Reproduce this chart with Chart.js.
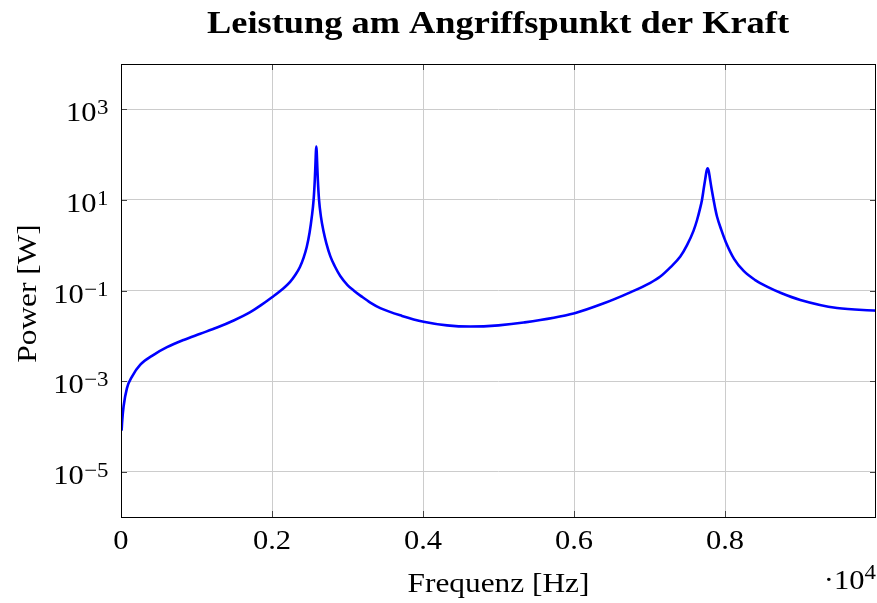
<!DOCTYPE html>
<html><head><meta charset="utf-8">
<script src="https://cdn.jsdelivr.net/npm/chart.js@4/dist/chart.umd.min.js"></script>
<style>html,body{margin:0;padding:0;background:#fff}canvas{display:block}</style>
</head><body>
<canvas id="c" width="877" height="603"></canvas>
<script>
const chartTitle = "Leistung am Angriffspunkt der Kraft";
const xTitle = "Frequenz [Hz]";
const yTitle = "Power [W]";
const xTickValues = [0, 2000, 4000, 6000, 8000];
const xTickLabels = ["0", "0.2", "0.4", "0.6", "0.8"];
const xScaleBase = "·10";
const xScaleExp = "4";
const yTickValues = [1e-5, 1e-3, 1e-1, 1e1, 1e3];
const yTickBase = ["10", "10", "10", "10", "10"];
const yTickExp = ["−5", "−3", "−1", "1", "3"];
const freq = [8, 17, 34, 79, 146, 256, 432, 609, 829, 1050, 1272, 1492, 1712, 1850, 2000, 2153, 2240, 2308, 2370, 2418, 2460, 2498, 2527, 2551, 2567, 2577, 2582, 2587, 2592, 2597, 2607, 2623, 2647, 2683, 2720, 2772, 2830, 2904, 3000, 3081, 3180, 3302, 3434, 3722, 4008, 4318, 4626, 5000, 5333, 6008, 6377, 6745, 7011, 7143, 7276, 7408, 7497, 7584, 7630, 7670, 7695, 7720, 7740, 7755, 7770, 7785, 7800, 7820, 7849, 7870, 7894, 7950, 8013, 8120, 8247, 8400, 8556, 8750, 8998, 9484, 10000];
const power = [8.1e-5, 1.4e-4, 2.75e-4, 7.0e-4, 1.26e-3, 2.3e-3, 3.8e-3, 5.6e-3, 8.1e-3, 0.0111, 0.0152, 0.0218, 0.0333, 0.0468, 0.0708, 0.112, 0.155, 0.219, 0.331, 0.525, 0.91, 1.9, 4.2, 10, 28, 72, 118, 150, 118, 72, 28, 10, 4.4, 2.0, 1.1, 0.575, 0.347, 0.209, 0.132, 0.1, 0.075, 0.054, 0.0408, 0.0275, 0.0204, 0.017, 0.016, 0.017, 0.0196, 0.0316, 0.0508, 0.091, 0.148, 0.203, 0.324, 0.561, 1.0, 2.1, 3.6, 6.5, 10, 18.5, 30, 43, 50, 43, 30, 18.5, 10, 6.5, 4.3, 2.2, 1.15, 0.5, 0.27, 0.17, 0.122, 0.087, 0.062, 0.041, 0.036];

const serif = "'Liberation Serif', 'DejaVu Serif', serif";
const pts = freq.map((f, i) => ({x: f, y: power[i]}));

function txt(ctx, s, x, y, font, align, sx) {
  ctx.save();
  ctx.font = font;
  ctx.translate(x, y);
  ctx.scale(sx, 1);
  ctx.textAlign = align;
  ctx.fillText(s, 0, 0);
  ctx.restore();
}
function fitTxt(ctx, s, cx, y, font, width) {
  ctx.save();
  ctx.font = font;
  const w = ctx.measureText(s).width;
  ctx.translate(cx, y);
  ctx.scale(width / w, 1);
  ctx.textAlign = 'center';
  ctx.fillText(s, 0, 0);
  ctx.restore();
}

const decor = {
  id: 'decor',
  afterDraw(chart) {
    const ctx = chart.ctx, a = chart.chartArea;
    const xs = chart.scales.x, ys = chart.scales.y;
    ctx.save();
    ctx.textBaseline = 'alphabetic';
    // tick marks
    ctx.strokeStyle = '#444'; ctx.lineWidth = 1;
    xTickValues.forEach(v => {
      const px = Math.round(xs.getPixelForValue(v)) + 0.5;
      ctx.beginPath(); ctx.moveTo(px, a.bottom); ctx.lineTo(px, a.bottom - 6);
      ctx.moveTo(px, a.top); ctx.lineTo(px, a.top + 6); ctx.stroke();
    });
    yTickValues.forEach(v => {
      const py = Math.round(ys.getPixelForValue(v)) + 0.5;
      ctx.beginPath(); ctx.moveTo(a.left, py); ctx.lineTo(a.left + 6, py);
      ctx.moveTo(a.right, py); ctx.lineTo(a.right - 6, py); ctx.stroke();
    });
    // frame
    ctx.strokeStyle = '#000'; ctx.lineWidth = 1;
    ctx.strokeRect(Math.round(a.left) + 0.5, Math.round(a.top) + 0.5, Math.round(a.right - a.left) - 1, Math.round(a.bottom - a.top));
    ctx.fillStyle = '#000';
    const S = 1.09;
    // x tick labels
    xTickValues.forEach((v, i) => txt(ctx, xTickLabels[i], xs.getPixelForValue(v), 549, '28px ' + serif, 'center', S));
    // y tick labels
    yTickValues.forEach((v, i) => {
      const py = ys.getPixelForValue(v);
      const right = 108.5;
      ctx.font = '21px ' + serif;
      const ew = ctx.measureText(yTickExp[i]).width * S;
      txt(ctx, yTickExp[i], right - ew, py + 5, '21px ' + serif, 'left', S);
      ctx.font = '28px ' + serif;
      const bw = ctx.measureText(yTickBase[i]).width * S;
      txt(ctx, yTickBase[i], right - ew - bw - 0.5, py + 12, '28px ' + serif, 'left', S);
    });
    // x axis title
    txt(ctx, xTitle, (a.left + a.right) / 2, 592, '28px ' + serif, 'center', 1.12);
    // scale note
    ctx.font = '21px ' + serif;
    const ew4 = ctx.measureText(xScaleExp).width * S;
    txt(ctx, xScaleExp, 876 - ew4, 579, '21px ' + serif, 'left', S);
    ctx.font = '28px ' + serif;
    const bw4 = ctx.measureText(xScaleBase).width * S;
    txt(ctx, xScaleBase, 876 - ew4 - bw4, 589, '28px ' + serif, 'left', S);
    // y axis title
    ctx.save();
    ctx.translate(36, (a.top + a.bottom) / 2 + 3); ctx.rotate(-Math.PI / 2);
    txt(ctx, yTitle, 0, 0, '28px ' + serif, 'center', 1.12);
    ctx.restore();
    // title
    fitTxt(ctx, chartTitle, 498, 33, 'bold 31px ' + serif, 582);
    ctx.restore();
  }
};

new Chart(document.getElementById('c'), {
  type: 'line',
  data: { datasets: [{ data: pts, borderColor: '#0000ff', borderWidth: 2.6, pointRadius: 0, fill: false, cubicInterpolationMode: 'monotone' }] },
  options: {
    responsive: false, animation: false,
    layout: { padding: { top: 64, right: 1, left: 0, bottom: 0 } },
    plugins: { legend: { display: false }, title: { display: false }, tooltip: { enabled: false } },
    scales: {
      x: {
        type: 'linear', min: 0, max: 10000,
        afterBuildTicks: s => { s.ticks = xTickValues.map(v => ({value: v})); },
        afterFit: s => { s.height = 86; },
        ticks: { display: false },
        grid: { color: '#cccccc', lineWidth: 1, drawTicks: false },
        border: { display: false }
      },
      y: {
        type: 'logarithmic', min: 1e-6, max: 1e4,
        afterBuildTicks: s => { s.ticks = yTickValues.map(v => ({value: v})); },
        afterFit: s => { s.width = 121; },
        ticks: { display: false },
        grid: { color: '#cccccc', lineWidth: 1, drawTicks: false },
        border: { display: false }
      }
    }
  },
  plugins: [decor]
});
</script>
</body></html>
